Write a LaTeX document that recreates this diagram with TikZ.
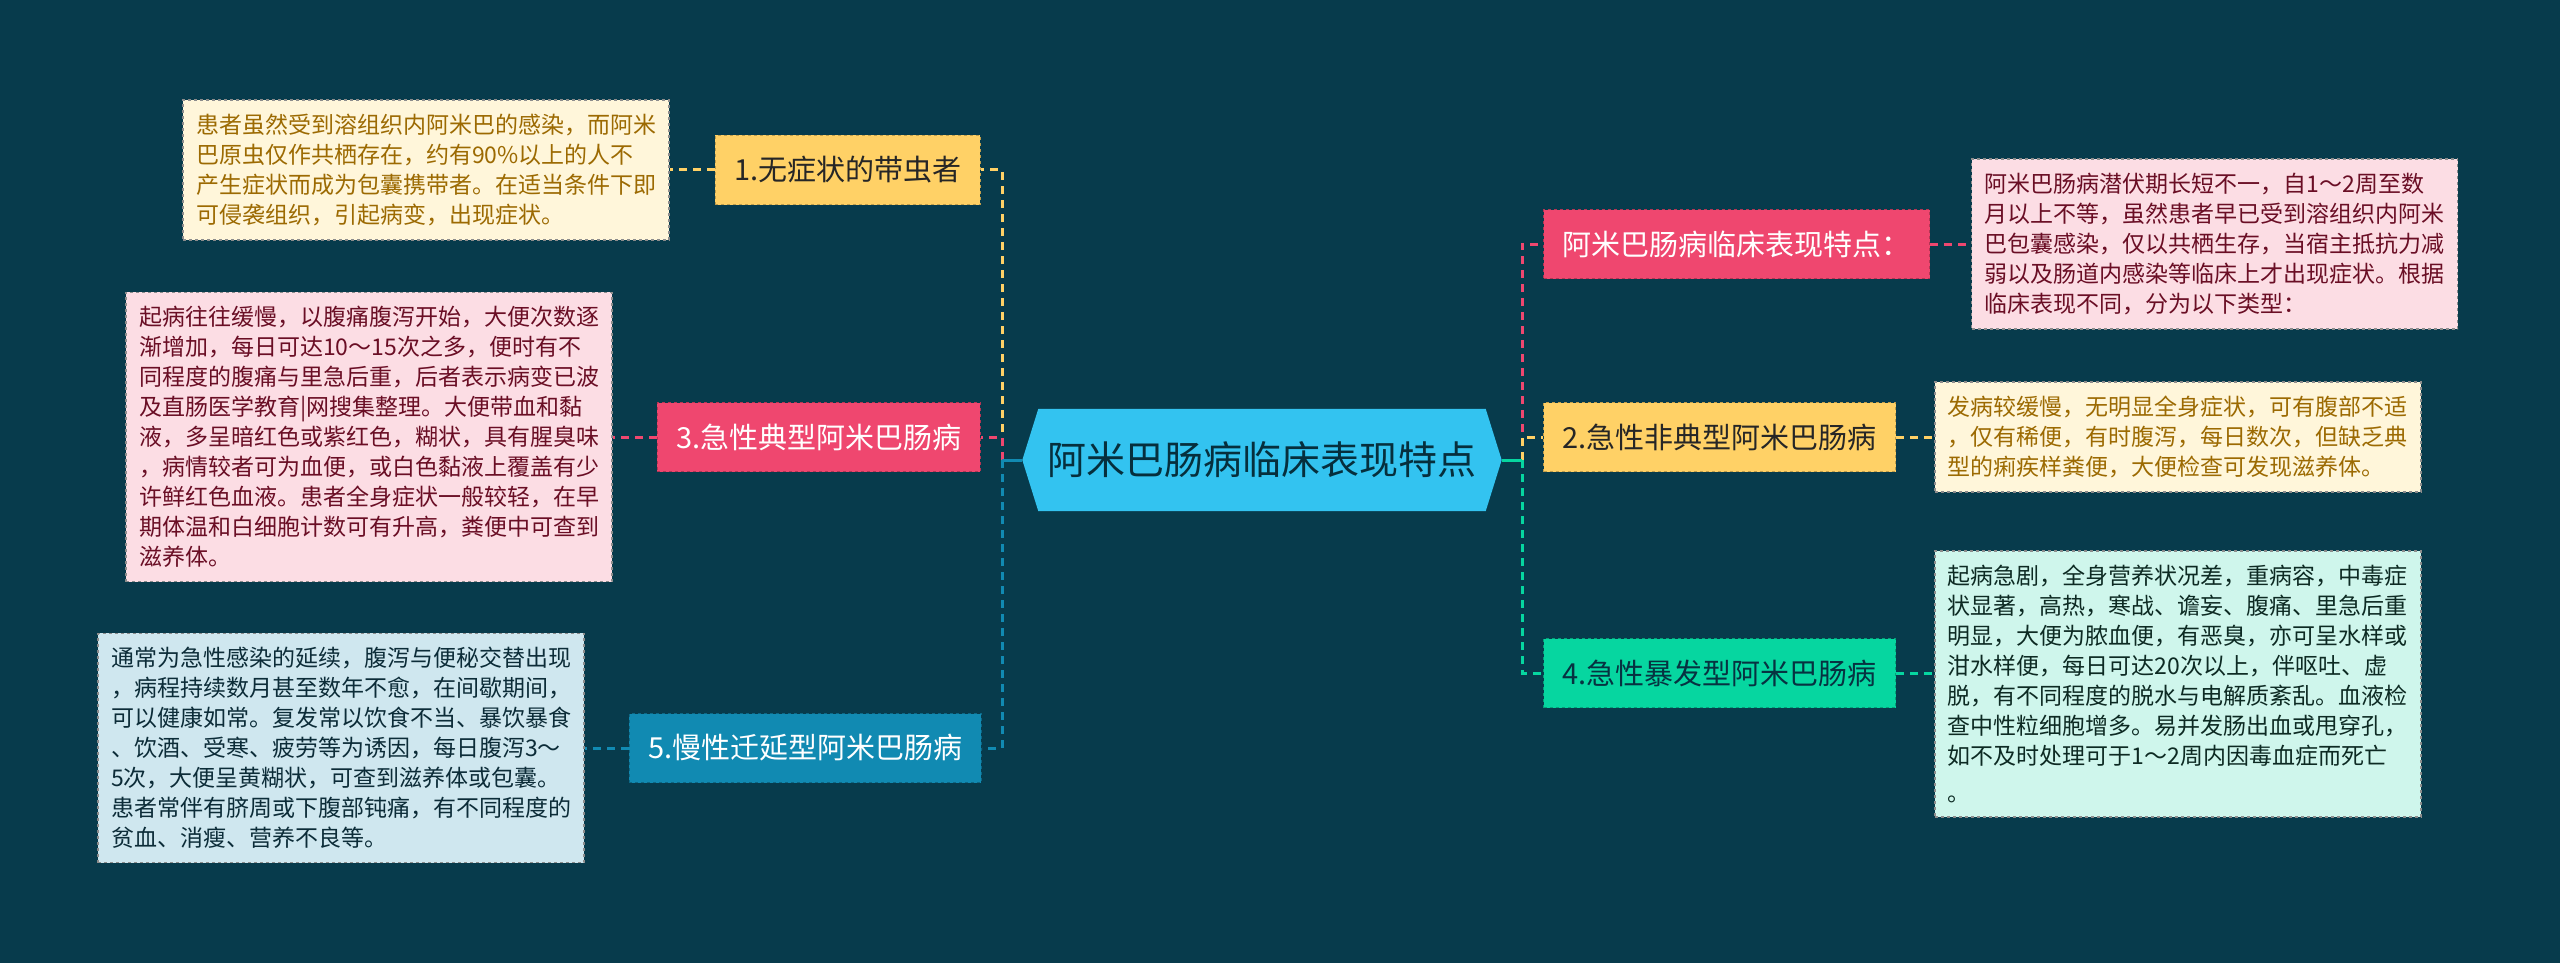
\documentclass[tikz,border=0pt]{standalone}
\usepackage{fontspec}
\setmainfont{Noto Sans CJK SC}
\usetikzlibrary{positioning,backgrounds}

\definecolor{bgc}{HTML}{073B4C}
\definecolor{rootc}{HTML}{33C3F0}
\definecolor{pinkc}{HTML}{EF476F}
\definecolor{yellc}{HTML}{FFD166}
\definecolor{greenc}{HTML}{06D6A0}
\definecolor{bluec}{HTML}{118AB2}
\definecolor{notey}{HTML}{FFF6DA}
\definecolor{notep}{HTML}{FCDDE4}
\definecolor{noteb}{HTML}{CFE7EF}
\definecolor{noteg}{HTML}{CFF6EC}

\newcommand{\rootfont}{\fontsize{39}{46}\selectfont}
\newcommand{\topicfont}{\fontsize{29}{35}\selectfont}
\newcommand{\notefont}{\fontsize{23}{30}\selectfont}

\tikzset{
  root/.style={minimum width=479pt, minimum height=102pt, inner sep=0pt, font=\rootfont, text=bgc!80!black},
  topic/.style={fill=#1, draw=#1!75!black, dashed, line width=1.2pt, minimum height=69pt, inner xsep=19pt, inner ysep=0pt, font=\topicfont},
  note/.style={fill=#1, draw=black!45, dashed, line width=1.2pt, text width=460pt, align=left, inner xsep=13pt, inner ysep=14pt, font=\notefont},
  lnk/.style={line width=3pt, dash pattern=on 8pt off 6pt},
  stem/.style={line width=3pt}
}

\begin{document}
\begin{tikzpicture}[x=1pt,y=-1pt]
    \useasboundingbox (0,0) rectangle (2560,963);

    % Central topic
    \node[root] (root) at (1262,460) {阿米巴肠病临床表现特点};
    \begin{scope}[on background layer]
        \fill[bgc] (0,0) rectangle (2560,963);
        \fill[rootc] (root.west) -- ([xshift=16pt]root.north west) -- ([xshift=-16pt]root.north east)
            -- (root.east) -- ([xshift=-16pt]root.south east) -- ([xshift=16pt]root.south west) -- cycle;
    \end{scope}

    % Left branches
    \node[topic=yellc, text=black!85, anchor=east] (n1) at (981,170) {1.无症状的带虫者};
    \node[topic=pinkc, text=white, anchor=east] (n3) at (981,437) {3.急性典型阿米巴肠病};
    \node[topic=bluec, text=white, anchor=east] (n5) at (982,748) {5.慢性迁延型阿米巴肠病};

    % Right branches
    \node[topic=pinkc, text=white, anchor=west] (r1) at (1543,244) {阿米巴肠病临床表现特点：};
    \node[topic=yellc, text=black!85, anchor=west] (n2) at (1543,437) {2.急性非典型阿米巴肠病};
    \node[topic=greenc, text=bgc!85!black, anchor=west] (n4) at (1543,673) {4.急性暴发型阿米巴肠病};

    % Notes
    \node[note=notey, text={rgb,255:red,156;green,106;blue,2}, left=45pt of n1] (d1) {患者虽然受到溶组织内阿米巴的感染，而阿米\\巴原虫仅作共栖存在，约有90\%以上的人不\\产生症状而成为包囊携带者。在适当条件下即\\可侵袭组织，引起病变，出现症状。};
    \node[note=notep, text={rgb,255:red,106;green,14;blue,37}, left=44pt of n3] (d3) {起病往往缓慢，以腹痛腹泻开始，大便次数逐\\渐增加，每日可达10～15次之多，便时有不\\同程度的腹痛与里急后重，后者表示病变已波\\及直肠医学教育|网搜集整理。大便带血和黏\\液，多呈暗红色或紫红色，糊状，具有腥臭味\\，病情较者可为血便，或白色黏液上覆盖有少\\许鲜红色血液。患者全身症状一般较轻，在早\\期体温和白细胞计数可有升高，粪便中可查到\\滋养体。};
    \node[note=noteb, text={rgb,255:red,12;green,44;blue,56}, left=44pt of n5] (d5) {通常为急性感染的延续，腹泻与便秘交替出现\\，病程持续数月甚至数年不愈，在间歇期间，\\可以健康如常。复发常以饮食不当、暴饮暴食\\、饮酒、受寒、疲劳等为诱因，每日腹泻3～\\5次，大便呈黄糊状，可查到滋养体或包囊。\\患者常伴有脐周或下腹部钝痛，有不同程度的\\贫血、消瘦、营养不良等。};
    \node[note=notep, text={rgb,255:red,106;green,14;blue,37}, right=41pt of r1] (dr1) {阿米巴肠病潜伏期长短不一，自1～2周至数\\月以上不等，虽然患者早已受到溶组织内阿米\\巴包囊感染，仅以共栖生存，当宿主抵抗力减\\弱以及肠道内感染等临床上才出现症状。根据\\临床表现不同，分为以下类型：};
    \node[note=notey, text={rgb,255:red,156;green,106;blue,2}, right=38pt of n2] (d2) {发病较缓慢，无明显全身症状，可有腹部不适\\，仅有稀便，有时腹泻，每日数次，但缺乏典\\型的痢疾样粪便，大便检查可发现滋养体。};
    \node[note=noteg, text={rgb,255:red,13;green,42;blue,35}, right=38pt of n4, yshift=-11pt] (d4) {起病急剧，全身营养状况差，重病容，中毒症\\状显著，高热，寒战、谵妄、腹痛、里急后重\\明显，大便为脓血便，有恶臭，亦可呈水样或\\泔水样便，每日可达20次以上，伴呕吐、虚\\脱，有不同程度的脱水与电解质紊乱。血液检\\查中性粒细胞增多。易并发肠出血或甩穿孔，\\如不及时处理可于1～2周内因毒血症而死亡\\[7pt]。};

    % Connectors from the central topic
    \coordinate (tl) at (1002,460);
    \coordinate (tr) at (1522,460);
    \draw[lnk, yellc] (tl) |- (n1.east);
    \draw[lnk, pinkc] (tl) |- (n3.east);
    \draw[lnk, bluec] (tl) |- (n5.east);
    \draw[stem, bluec] (root.west) -- (tl);
    \draw[lnk, pinkc] (tr) |- (r1.west);
    \draw[lnk, yellc] (tr) |- (n2.west);
    \draw[lnk, greenc] (tr) |- (n4.west);
    \draw[stem, greenc] (root.east) -- (tr);

    % Connectors to the notes
    \draw[lnk, yellc] (n1.west) -- (d1.east);
    \draw[lnk, pinkc] (n3.west) -- (d3.east);
    \draw[lnk, bluec] (n5.west) -- (d5.east);
    \draw[lnk, pinkc] (r1.east) -- (dr1.west);
    \draw[lnk, yellc] (n2.east) -- (d2.west);
    \draw[lnk, greenc] (n4.east) -- (n4.east -| d4.west);
\end{tikzpicture}
\end{document}
